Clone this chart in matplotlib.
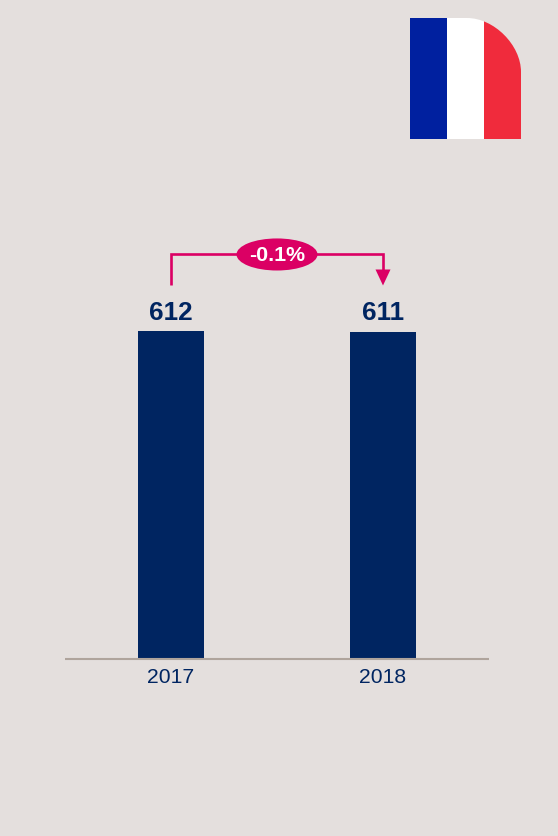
import matplotlib
matplotlib.use("Agg")
import matplotlib.pyplot as plt
from matplotlib.patches import Ellipse, PathPatch, Rectangle
from matplotlib.path import Path

plt.rcParams["font.family"] = ["Liberation Sans", "DejaVu Sans"]

years = ["2017", "2018"]
values = [612, 611]
change_label = "-0.1%"

BG = "#E4DFDD"
NAVY = "#002561"
PINK = "#DB0064"
BASE = "#AFA49C"
FLAG_COLORS = ["#00209F", "#FFFFFF", "#F02B3C"]


def draw_flag(fig):
    # overlay in pixel coordinates, y pointing down
    ov = fig.add_axes([0, 0, 1, 1], zorder=5)
    ov.set_xlim(0, 558)
    ov.set_ylim(836, 0)
    ov.axis("off")

    left, right, top, bottom = 409.5, 521, 18, 139
    r = 54
    k = 0.5 * r
    outline = Path(
        [
            (left, top),
            (right - r, top),
            (right - r + k, top),
            (right, top + r - k),
            (right, top + r),
            (right, bottom),
            (left, bottom),
            (left, top),
        ],
        [Path.MOVETO, Path.LINETO, Path.CURVE4, Path.CURVE4, Path.CURVE4,
         Path.LINETO, Path.LINETO, Path.CLOSEPOLY],
    )
    clip = PathPatch(outline, fc="none", ec="none", transform=ov.transData)
    ov.add_patch(clip)

    w = (right - left) / 3
    for i, c in enumerate(FLAG_COLORS):
        stripe = Rectangle((left + i * w, top), w, bottom - top, fc=c, ec="none")
        ov.add_patch(stripe)
        stripe.set_clip_path(clip)


def main():
    fig = plt.figure(figsize=(5.58, 8.36), dpi=100, facecolor=BG)
    ax = fig.add_axes([65 / 558, (836 - 658.5) / 836, 424 / 558, 458 / 836])
    ax.set_facecolor(BG)
    ax.set_xlim(-0.5, 1.5)
    ax.set_ylim(0, 857)

    x = list(range(len(years)))
    ax.bar(x, values, width=0.311, color=NAVY, linewidth=0)

    for s in ["top", "left", "right"]:
        ax.spines[s].set_visible(False)
    ax.spines["bottom"].set_color(BASE)
    ax.spines["bottom"].set_linewidth(1.5)
    ax.spines["bottom"].set_capstyle("butt")

    ax.set_yticks([])
    ax.set_xticks(x)
    ax.set_xticklabels(years, fontsize=15.2, color=NAVY)
    ax.tick_params(axis="x", length=0, pad=7)

    for xi, v in zip(x, values):
        ax.annotate(str(v), (xi, v), xytext=(0, 8.5), textcoords="offset points",
                    ha="center", va="baseline", fontsize=18.8, fontweight="bold",
                    color=NAVY)

    # bracket between the two bars
    y_start = values[0] + 86
    y_top = values[0] + 144
    y_tip = values[1] + 87
    ax.plot([x[0], x[0], x[1], x[1]], [y_start, y_top, y_top, y_tip + 20],
            color=PINK, lw=1.9, solid_joinstyle="miter", solid_capstyle="butt")
    ax.annotate("", xy=(x[1], y_tip), xytext=(x[1], y_tip + 30),
                arrowprops=dict(arrowstyle="-|>,head_length=1.15,head_width=0.54",
                                mutation_scale=10, color=PINK, lw=0,
                                shrinkA=0, shrinkB=0))

    mid = (x[0] + x[1]) / 2
    ax.add_patch(Ellipse((mid, y_top), 0.382, 60, fc=PINK, ec="none", zorder=3))
    ax.text(mid, y_top - 1, change_label, ha="center", va="center",
            fontsize=15.4, fontweight="bold", color="white", zorder=4)

    draw_flag(fig)

    fig.savefig("out.png", dpi=100, facecolor=BG)


if __name__ == "__main__":
    main()
